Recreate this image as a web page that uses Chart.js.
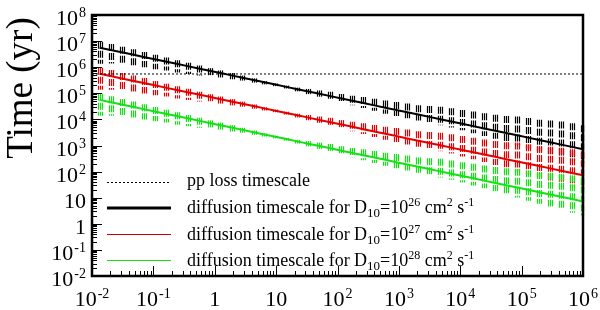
<!DOCTYPE html>
<html>
<head>
    <title>Timescales</title>
    <script src="https://cdn.jsdelivr.net/npm/chart.js"></script>
    <style>
        body { margin: 0; background: #fff; }
        #wrap { width: 600px; height: 310px; }
    </style>
</head>
<body>
    <div id="wrap"><canvas id="timeChart"></canvas></div>

    <script>
        // energy grid (x)
        const energy = [0.0133, 0.0201, 0.0304, 0.0459, 0.0693, 0.105, 0.158, 0.239, 0.361, 0.545,
            0.822, 1.24, 1.88, 2.83, 4.28, 6.46, 9.75, 14.7, 22.2, 33.6,
            50.7, 76.6, 116, 175, 264, 398, 601, 908, 1370, 2070,
            3130, 4720, 7130, 10800, 16300, 24500, 37100, 56000, 84500, 128000,
            193000, 291000, 440000, 664000, 1000000];

        // pp loss timescale (flat)
        const ppEnergy = [0.01, 1000000];
        const ppTime = [5.5e5, 5.5e5];

        // D10 = 1e26
        const t26 = [5.60e6, 4.57e6, 3.72e6, 3.04e6, 2.48e6, 2.02e6, 1.65e6, 1.35e6, 1.10e6, 8.96e5,
            7.31e5, 5.97e5, 4.86e5, 3.97e5, 3.24e5, 2.64e5, 2.16e5, 1.76e5, 1.44e5, 1.17e5,
            9.55e4, 7.80e4, 6.35e4, 5.19e4, 4.23e4, 3.45e4, 2.82e4, 2.30e4, 1.87e4, 1.53e4,
            1.25e4, 1.02e4, 8.30e3, 6.78e3, 5.52e3, 4.51e3, 3.68e3, 3.00e3, 2.45e3, 2.00e3,
            1.63e3, 1.33e3, 1.08e3, 885, 721];
        const t26Hi = [9.51e6, 7.76e6, 6.04e6, 4.82e6, 3.84e6, 2.99e6, 2.33e6, 1.86e6, 1.48e6, 1.15e6,
            9.20e5, 7.52e5, 5.98e5, 4.78e5, 3.72e5, 2.90e5, 2.37e5, 1.97e5, 1.65e5, 1.47e5,
            1.29e5, 1.15e5, 9.40e4, 8.04e4, 7.18e4, 6.14e4, 5.25e4, 4.69e4, 4.10e4, 3.50e4,
            3.28e4, 3.08e4, 2.69e4, 2.30e4, 2.00e4, 1.71e4, 1.50e4, 1.34e4, 1.29e4, 1.12e4,
            9.59e3, 8.99e3, 8.22e3, 7.19e3, 6.00e3];
        const t26Lo = [1.37e6, 1.38e6, 1.23e6, 1.16e6, 9.86e5, 8.43e5, 7.55e5, 6.30e5, 5.51e5, 4.81e5,
            4.51e5, 4.04e5, 3.44e5, 3.08e5, 2.57e5, 2.20e5, 1.88e5, 1.53e5, 1.19e5, 9.29e4,
            7.41e4, 5.78e4, 4.50e4, 3.51e4, 2.73e4, 2.13e4, 1.66e4, 1.35e4, 1.10e4, 9.00e3,
            7.35e3, 6.00e3, 4.89e3, 3.81e3, 2.96e3, 2.31e3, 1.80e3, 1.37e3, 1.02e3, 759,
            592, 461, 343, 267, 208];

        // D10 = 1e27
        const t27 = [5.60e5, 4.57e5, 3.72e5, 3.04e5, 2.48e5, 2.02e5, 1.65e5, 1.35e5, 1.10e5, 8.96e4,
            7.31e4, 5.97e4, 4.86e4, 3.97e4, 3.24e4, 2.64e4, 2.16e4, 1.76e4, 1.44e4, 1.17e4,
            9.55e3, 7.80e3, 6.35e3, 5.19e3, 4.23e3, 3.45e3, 2.82e3, 2.30e3, 1.87e3, 1.53e3,
            1.25e3, 1.02e3, 830, 678, 552, 451, 368, 300, 245, 200,
            163, 133, 108, 88.5, 72.1];
        const t27Hi = [9.51e5, 7.76e5, 6.04e5, 4.82e5, 3.84e5, 2.99e5, 2.33e5, 1.86e5, 1.48e5, 1.15e5,
            9.20e4, 7.52e4, 5.98e4, 4.78e4, 3.72e4, 2.90e4, 2.37e4, 1.97e4, 1.65e4, 1.47e4,
            1.29e4, 1.15e4, 9.40e3, 8.04e3, 7.18e3, 6.14e3, 5.25e3, 4.69e3, 4.10e3, 3.50e3,
            3.28e3, 3.08e3, 2.69e3, 2.30e3, 2.00e3, 1.71e3, 1.50e3, 1.34e3, 1.29e3, 1.12e3,
            959, 899, 822, 719, 600];
        const t27Lo = [1.37e5, 1.38e5, 1.23e5, 1.16e5, 9.86e4, 8.43e4, 7.55e4, 6.30e4, 5.51e4, 4.81e4,
            4.51e4, 4.04e4, 3.44e4, 3.08e4, 2.57e4, 2.20e4, 1.88e4, 1.53e4, 1.19e4, 9.29e3,
            7.41e3, 5.78e3, 4.50e3, 3.51e3, 2.73e3, 2.13e3, 1.66e3, 1.35e3, 1.10e3, 900,
            735, 600, 489, 381, 296, 231, 180, 137, 102, 75.9,
            59.2, 46.1, 34.3, 26.7, 20.8];

        // D10 = 1e28
        const t28 = [5.60e4, 4.57e4, 3.72e4, 3.04e4, 2.48e4, 2.02e4, 1.65e4, 1.35e4, 1.10e4, 8.96e3,
            7.31e3, 5.97e3, 4.86e3, 3.97e3, 3.24e3, 2.64e3, 2.16e3, 1.76e3, 1.44e3, 1.17e3,
            955, 780, 635, 519, 423, 345, 282, 230, 187, 153,
            125, 102, 83.0, 67.8, 55.2, 45.1, 36.8, 30.0, 24.5, 20.0,
            16.3, 13.3, 10.8, 8.85, 7.21];
        const t28Hi = [9.51e4, 7.76e4, 6.04e4, 4.82e4, 3.84e4, 2.99e4, 2.33e4, 1.86e4, 1.48e4, 1.15e4,
            9.20e3, 7.52e3, 5.98e3, 4.78e3, 3.72e3, 2.90e3, 2.37e3, 1.97e3, 1.65e3, 1.47e3,
            1.29e3, 1.15e3, 940, 804, 718, 614, 525, 469, 410, 350,
            328, 308, 269, 230, 200, 171, 150, 134, 129, 112,
            95.9, 89.9, 82.2, 71.9, 60.0];
        const t28Lo = [1.37e4, 1.38e4, 1.23e4, 1.16e4, 9.86e3, 8.43e3, 7.55e3, 6.30e3, 5.51e3, 4.81e3,
            4.51e3, 4.04e3, 3.44e3, 3.08e3, 2.57e3, 2.20e3, 1.88e3, 1.53e3, 1.19e3, 929,
            741, 578, 450, 351, 273, 213, 166, 135, 110, 90.0,
            73.5, 60.0, 48.9, 38.1, 29.6, 23.1, 18.0, 13.7, 10.2, 7.59,
            5.92, 4.61, 3.43, 2.67, 2.08];

        const xTicks = [1e-2, 1e-1, 1, 10, 1e2, 1e3, 1e4, 1e5, 1e6];
        const xTickLabels = ['10^-2', '10^-1', '1', '10', '10^2', '10^3', '10^4', '10^5', '10^6'];
        const yTicks = [1e-2, 1e-1, 1, 10, 1e2, 1e3, 1e4, 1e5, 1e6, 1e7, 1e8];
        const yTickLabels = ['10^-2', '10^-1', '1', '10', '10^2', '10^3', '10^4', '10^5', '10^6', '10^7', '10^8'];

        const SERIF = '"Liberation Serif", "Times New Roman", serif';
        const RED = 'rgb(228,0,0)';
        const GREEN = 'rgb(20,225,20)';

        function pts(xs, ys) {
            return xs.map((x, i) => ({ x: x, y: ys[i] }));
        }

        // label like "10^-2" -> "10" with a raised exponent
        function drawPowLabel(ctx, label, x, y, align) {
            const parts = label.split('^');
            ctx.font = '22px ' + SERIF;
            const wb = ctx.measureText(parts[0]).width;
            ctx.font = '14px ' + SERIF;
            const we = parts[1] ? ctx.measureText(parts[1]).width + 1 : 0;
            const total = wb + we;
            let sx = align === 'right' ? x - total : x - total / 2;
            ctx.textAlign = 'left';
            ctx.textBaseline = 'alphabetic';
            ctx.font = '22px ' + SERIF;
            ctx.fillText(parts[0], sx, y);
            if (parts[1]) {
                ctx.font = '14px ' + SERIF;
                ctx.fillText(parts[1], sx + wb + 1, y - 8);
            }
        }

        // rich text: parts with optional sub / sup
        function drawRich(ctx, parts, x, y) {
            let cx = x;
            ctx.textAlign = 'left';
            ctx.textBaseline = 'alphabetic';
            parts.forEach(p => {
                let dy = 0;
                if (p.sub) { ctx.font = '13px ' + SERIF; dy = 4; }
                else if (p.sup) { ctx.font = '12px ' + SERIF; dy = -7; }
                else { ctx.font = '18px ' + SERIF; }
                ctx.fillText(p.t, cx, y + dy);
                cx += ctx.measureText(p.t).width;
            });
        }

        const errorBars = {
            id: 'errorBars',
            beforeDatasetsDraw(chart) {
                const ctx = chart.ctx;
                const xs = chart.scales.x, ys = chart.scales.y;
                const a = chart.chartArea;
                // drawn black first, green last (on top)
                const sets = [
                    { hi: t26Hi, lo: t26Lo, color: '#000' },
                    { hi: t27Hi, lo: t27Lo, color: RED },
                    { hi: t28Hi, lo: t28Lo, color: GREEN }
                ];
                ctx.save();
                ctx.beginPath();
                ctx.rect(a.left, a.top, a.right - a.left + 2, a.bottom - a.top);
                ctx.clip();
                ctx.lineWidth = 1.2;
                ctx.setLineDash([7, 2]);
                sets.forEach(s => {
                    ctx.strokeStyle = s.color;
                    energy.forEach((e, i) => {
                        const px = Math.round(xs.getPixelForValue(e));
                        const y1 = ys.getPixelForValue(s.hi[i]);
                        const y2 = ys.getPixelForValue(s.lo[i]);
                        [-2, 0, 2].forEach(off => {
                            ctx.beginPath();
                            ctx.moveTo(px + off + 0.5, y1);
                            ctx.lineTo(px + off + 0.5, y2);
                            ctx.stroke();
                        });
                    });
                });
                ctx.restore();
            }
        };

        const frame = {
            id: 'frame',
            afterDraw(chart) {
                const ctx = chart.ctx;
                const xs = chart.scales.x, ys = chart.scales.y;
                const a = chart.chartArea;
                ctx.save();
                ctx.strokeStyle = '#000';
                ctx.fillStyle = '#000';

                // inward ticks
                ctx.lineWidth = 1;
                for (let d = -2; d <= 8; d++) {
                    for (let m = 1; m <= 9; m++) {
                        const v = m * Math.pow(10, d);
                        if (v > 1e8 * 1.0001) continue;
                        const py = Math.round(ys.getPixelForValue(v)) + 0.5;
                        ctx.beginPath();
                        ctx.moveTo(a.left, py);
                        ctx.lineTo(a.left + (m === 1 ? 10 : 5), py);
                        ctx.stroke();
                    }
                }
                for (let d = -2; d <= 6; d++) {
                    for (let m = 1; m <= 9; m++) {
                        const v = m * Math.pow(10, d);
                        if (v > 1e6 * 1.0001) continue;
                        const px = Math.round(xs.getPixelForValue(v)) + 0.5;
                        ctx.beginPath();
                        ctx.moveTo(px, a.bottom);
                        ctx.lineTo(px, a.bottom - (m === 1 ? 10 : 5));
                        ctx.stroke();
                    }
                }

                // box
                ctx.lineWidth = 2.5;
                ctx.strokeRect(a.left, a.top, a.right - a.left, a.bottom - a.top);

                // tick labels
                yTicks.forEach((v, i) => {
                    drawPowLabel(ctx, yTickLabels[i], 86, ys.getPixelForValue(v) + 10, 'right');
                });
                xTicks.forEach((v, i) => {
                    drawPowLabel(ctx, xTickLabels[i], xs.getPixelForValue(v), 306, 'center');
                });

                // y title
                ctx.save();
                ctx.translate(32, 88);
                ctx.rotate(-Math.PI / 2);
                ctx.font = '37px ' + SERIF;
                ctx.textAlign = 'center';
                ctx.textBaseline = 'alphabetic';
                ctx.fillText('Time (yr)', 0, 0);
                ctx.restore();

                // legend
                const lx1 = 107, lx2 = 171, tx = 187;
                ctx.lineWidth = 1;
                ctx.setLineDash([2, 2]);
                ctx.beginPath(); ctx.moveTo(lx1, 182.5); ctx.lineTo(lx2, 182.5); ctx.stroke();
                ctx.setLineDash([]);
                drawRich(ctx, [{ t: 'pp loss timescale' }], tx, 186);

                const rows = [
                    { y: 208, w: 3, c: '#000', exp: '26', base: 213 },
                    { y: 234.5, w: 1, c: 'rgb(200,0,0)', exp: '27', base: 240 },
                    { y: 260.5, w: 1, c: GREEN, exp: '28', base: 266 }
                ];
                rows.forEach(r => {
                    ctx.strokeStyle = r.c;
                    ctx.lineWidth = r.w;
                    ctx.beginPath(); ctx.moveTo(lx1, r.y); ctx.lineTo(lx2, r.y); ctx.stroke();
                    ctx.fillStyle = '#000';
                    drawRich(ctx, [
                        { t: 'diffusion timescale for D' }, { t: '10', sub: true },
                        { t: '=10' }, { t: r.exp, sup: true },
                        { t: ' cm' }, { t: '2', sup: true },
                        { t: ' s' }, { t: '-1', sup: true }
                    ], tx, r.base);
                });
                ctx.restore();
            }
        };

        const ctx = document.getElementById('timeChart').getContext('2d');
        new Chart(ctx, {
            type: 'line',
            data: {
                datasets: [
                    {
                        label: 'pp loss timescale',
                        data: pts(ppEnergy, ppTime),
                        borderColor: '#000',
                        borderWidth: 1,
                        borderDash: [2, 2],
                        pointRadius: 0,
                        fill: false,
                    },
                    {
                        label: 'D10=1e28',
                        data: pts(energy, t28),
                        borderColor: GREEN,
                        borderWidth: 2,
                        pointRadius: 0,
                        fill: false,
                    },
                    {
                        label: 'D10=1e27',
                        data: pts(energy, t27),
                        borderColor: RED,
                        borderWidth: 2,
                        pointRadius: 0,
                        fill: false,
                    },
                    {
                        label: 'D10=1e26',
                        data: pts(energy, t26),
                        borderColor: '#000',
                        borderWidth: 2,
                        pointRadius: 0,
                        fill: false,
                    }
                ]
            },
            options: {
                responsive: true,
                maintainAspectRatio: false,
                animation: false,
                devicePixelRatio: 1,
                layout: { padding: { left: 92, right: 17, top: 15, bottom: 34 } },
                plugins: { legend: { display: false }, tooltip: { enabled: false } },
                scales: {
                    x: { type: 'logarithmic', min: 1e-2, max: 1e6, display: false },
                    y: { type: 'logarithmic', min: 1e-2, max: 1e8, display: false }
                }
            },
            plugins: [errorBars, frame]
        });
    </script>
</body>
</html>
